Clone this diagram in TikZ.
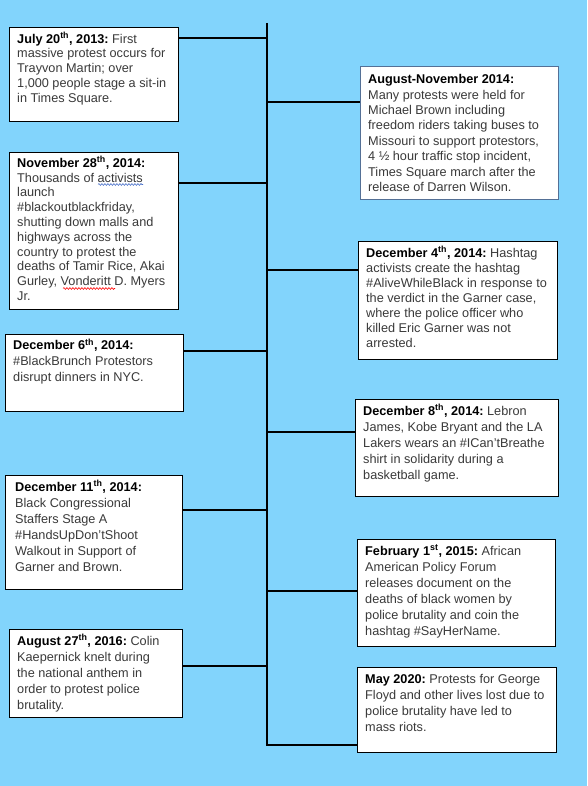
\documentclass[tikz,border=0pt]{standalone}
\usepackage{fontspec}
\setmainfont{Liberation Sans}
\usetikzlibrary{calc,decorations.pathmorphing}
\frenchspacing
\definecolor{bgblue}{RGB}{130,212,252}
\definecolor{bodygray}{RGB}{58,58,58}
\definecolor{framegrey}{RGB}{84,112,150}
\newcommand{\hd}[1]{\textbf{\color{black}#1}}
\newcommand{\supx}[1]{\textsuperscript{#1}}
\newcommand{\fs}{\rule{0pt}{12pt}}
\tikzset{
  box/.style={draw=black, line width=1.2pt, fill=white, anchor=north west, inner sep=0pt},
  txt/.style={anchor=north west, inner sep=0pt, align=left, text=bodygray},
  fsa/.style={font=\fontsize{12.7}{14.8}\selectfont\frenchspacing},
  fsb/.style={font=\fontsize{12.7}{15.4}\selectfont\frenchspacing},
  fsc/.style={font=\fontsize{12.7}{15.1}\selectfont\frenchspacing},
  fsd/.style={font=\fontsize{12.7}{16}\selectfont\frenchspacing},
  conn/.style={draw=black, line width=2pt},
  spine/.style={draw=black, line width=2.2pt},
  squig/.style={decorate, decoration={snake, amplitude=0.9pt, segment length=3pt}, line width=0.6pt}
}
\begin{document}
\begin{tikzpicture}[x=1pt,y=-1pt]
\useasboundingbox (0,0) rectangle (587,786);
\fill[bgblue] (0,0) rectangle (587,786);

% spine
\coordinate (top) at (267,23);
\coordinate (bot) at (267,745);
\draw[spine] (top) -- (bot);

% boxes
\node[box, minimum width=169pt, minimum height=94pt] (b1) at (9,27) {};
\node[box, draw=framegrey, line width=0.9pt, minimum width=198pt, minimum height=133pt] (b2) at (360,66) {};
\node[box, minimum width=169pt, minimum height=157pt] (b3) at (9,152) {};
\node[box, minimum width=199pt, minimum height=118pt] (b4) at (358,241) {};
\node[box, minimum width=178pt, minimum height=77pt] (b5) at (5,334) {};
\node[box, minimum width=203pt, minimum height=97pt] (b6) at (355,399) {};
\node[box, minimum width=177pt, minimum height=114pt] (b7) at (5,475) {};
\node[box, minimum width=198pt, minimum height=107pt] (b8) at (357,539) {};
\node[box, minimum width=173pt, minimum height=88pt] (b9) at (9,629) {};
\node[box, minimum width=199pt, minimum height=85pt] (b10) at (357,667) {};

% spine coordinates
\coordinate (s1) at (267,38);
\coordinate (s2) at (267,102);
\coordinate (s3) at (267,183);
\coordinate (s4) at (267,270);
\coordinate (s5) at (267,351);
\coordinate (s6) at (267,432);
\coordinate (s7) at (267,510);
\coordinate (s8) at (267,591);
\coordinate (s9) at (267,666);
\coordinate (s10) at (267,745);

% connectors
\draw[conn] (b1.east |- s1) -- (s1);
\draw[conn] (s2) -- (b2.west |- s2);
\draw[conn] (b3.east |- s3) -- (s3);
\draw[conn] (s4) -- (b4.west |- s4);
\draw[conn] (b5.east |- s5) -- (s5);
\draw[conn] (s6) -- (b6.west |- s6);
\draw[conn] (b7.east |- s7) -- (s7);
\draw[conn] (s8) -- (b8.west |- s8);
\draw[conn] (b9.east |- s9) -- (s9);
\draw[conn] ([xshift=-1.1pt]s10) -- (b10.west |- s10);

% texts
\node[txt, fsa] (t1) at ($(b1.north west)+(8,4)$) {\fs\hd{July 20\supx{th}, 2013:} First\\
massive protest occurs for\\
Trayvon Martin; over\\
1,000 people stage a sit-in\\
in Times Square.};

\node[txt, fsb] (t2) at ($(b2.north west)+(8,5.5)$) {\fs\hd{August-November 2014:}\\
Many protests were held for\\
Michael Brown including\\
freedom riders taking buses to\\
Missouri to support protestors,\\
4 ½ hour traffic stop incident,\\
Times Square march after the\\
release of Darren Wilson.};

\node[txt, fsa] (t3) at ($(b3.north west)+(8,3)$) {\fs\hd{November 28\supx{th}, 2014:}\\
Thousands of activists\\
launch\\
\#blackoutblackfriday,\\
shutting down malls and\\
highways across the\\
country to protest the\\
deaths of Tamir Rice, Akai\\
Gurley, Vonderitt D. Myers\\
Jr.};

\node[txt, fsc] (t4) at ($(b4.north west)+(8,4)$) {\fs\hd{December 4\supx{th}, 2014:} Hashtag\\
activists create the hashtag\\
\#AliveWhileBlack in response to\\
the verdict in the Garner case,\\
where the police officer who\\
killed Eric Garner was not\\
arrested.};

\node[txt, fsd] (t5) at ($(b5.north west)+(8,3.5)$) {\fs\hd{December 6\supx{th}, 2014:}\\
\#BlackBrunch Protestors\\
disrupt dinners in NYC.};

\node[txt, fsd] (t6) at ($(b6.north west)+(8,4)$) {\fs\hd{December 8\supx{th}, 2014:} Lebron\\
James, Kobe Bryant and the LA\\
Lakers wears an \#ICan't\kern0ptBreathe\\
shirt in solidarity during a\\
basketball game.};

\node[txt, fsd] (t7) at ($(b7.north west)+(10,4)$) {\fs\hd{December 11\supx{th}, 2014:}\\
Black Congressional\\
Staffers Stage A\\
\#HandsUpDon't\kern0ptShoot\\
Walkout in Support of\\
Garner and Brown.};

\node[txt, fsd] (t8) at ($(b8.north west)+(8,4)$) {\fs\hd{February 1\supx{st}, 2015:} African\\
American Policy Forum\\
releases document on the\\
deaths of black women by\\
police brutality and coin the\\
hashtag \#SayHerName.};

\node[txt, fsd] (t9) at ($(b9.north west)+(8,4)$) {\fs\hd{August 27\supx{th}, 2016:} Colin\\
Kaepernick knelt during\\
the national anthem in\\
order to protest police\\
brutality.};

\node[txt, fsd] (t10) at ($(b10.north west)+(8,4)$) {\fs\hd{May 2020:} Protests for George\\
Floyd and other lives lost due to\\
police brutality have led to\\
mass riots.};

% spell-check marks
\draw[squig, draw={rgb,255:red,70;green,110;blue,200}] (98,184.5) -- (143,184.5);
\draw[squig, draw=red] (63,288.5) -- (115,288.5);
\end{tikzpicture}
\end{document}
